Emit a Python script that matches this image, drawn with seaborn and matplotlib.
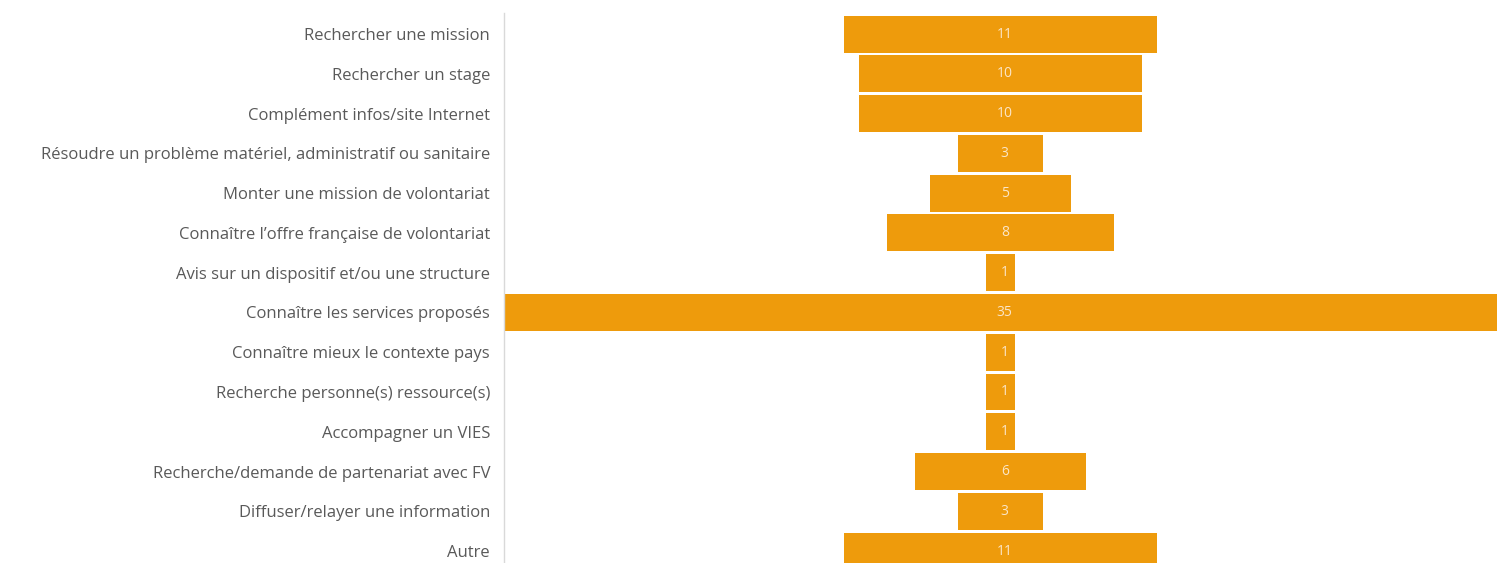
import pandas as pd
import seaborn as sns
from matplotlib import pyplot as plt

# data
categories = [
    "Rechercher une mission",
    "Rechercher un stage",
    "Complément infos/site Internet",
    "Résoudre un problème matériel, administratif ou sanitaire",
    "Monter une mission de volontariat",
    "Connaître l’offre française de volontariat",
    "Avis sur un dispositif et/ou une structure",
    "Connaître les services proposés",
    "Connaître mieux le contexte pays",
    "Recherche personne(s) ressource(s)",
    "Accompagner un VIES",
    "Recherche/demande de partenariat avec FV",
    "Diffuser/relayer une information",
    "Autre",
]
counts = [11, 10, 10, 3, 5, 8, 1, 35, 1, 1, 1, 6, 3, 11]

df = pd.DataFrame({"categorie": categories, "nombre": counts})
df["half"] = df["nombre"] / 2
df["neg_half"] = -df["nombre"] / 2

sns.set_style("white")
plt.rcParams["font.family"] = ["Open Sans", "DejaVu Sans"]

bar_color = "#EE9B0C"

fig = plt.figure(figsize=(14.97, 5.63), dpi=100)
ax = fig.add_axes([504 / 1497, 0, 1 - 504 / 1497, 1 - 13 / 563])

# funnel: two halves around zero
for col in ["half", "neg_half"]:
    sns.barplot(data=df, x=col, y="categorie", orient="h", color=bar_color,
                width=0.93, linewidth=0, saturation=1, ax=ax)

for i, v in enumerate(df["nombre"]):
    ax.text(0.15, i, str(v), ha="center", va="center", color="#FBE6C8", fontsize=10)

ax.set_xlim(-17.5, 17.5)
ax.set_ylim(13.3, -0.53)
ax.set_xlabel("")
ax.set_ylabel("")
ax.set_xticks([])
ax.tick_params(axis="y", length=0, pad=10, labelsize=12, labelcolor="#595959")

for side in ["top", "right", "bottom"]:
    ax.spines[side].set_visible(False)
ax.spines["left"].set_color("#D9D9D9")
ax.spines["left"].set_linewidth(1)

plt.savefig("out.png", dpi=100)
